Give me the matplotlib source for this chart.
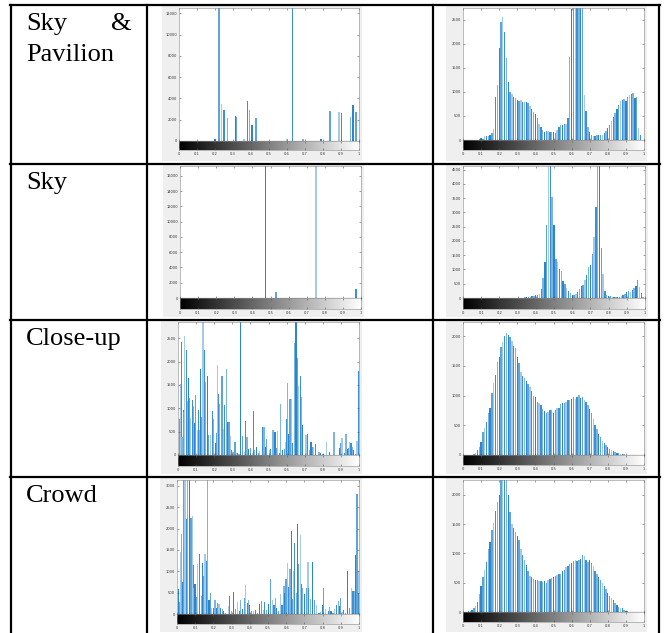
import numpy as np
import matplotlib
matplotlib.use('Agg')
import matplotlib.pyplot as plt
from matplotlib.lines import Line2D
from matplotlib.patches import Rectangle

# ---------------- data ----------------
row_labels = ["Sky & Pavilion", "Sky", "Close-up", "Crowd"]
cbar_ticklabels = ['0', '0.1', '0.2', '0.3', '0.4', '0.5', '0.6', '0.7', '0.8', '0.9', '1']

# dense histogram bins (0.00 .. 1.00)
bins = np.round(np.arange(0, 101) * 0.01, 2)

# Sky & Pavilion (right)
hist2 = [0, 0, 0, 0, 0, 0, 0, 0, 0, 20,
         40, 30, 80, 90, 90, 110, 150, 230, 900, 1150,
         1900, 2450, 2550, 2250, 1700, 1200, 1000, 950, 900, 870,
         830, 800, 820, 780, 790, 780, 760, 710, 640, 590,
         530, 450, 330, 260, 200, 175, 180, 180, 170, 160,
         160, 140, 210, 264, 310, 320, 330, 340, 450, 1730,
         2720, 2900, 3000, 3000, 2900, 2800, 2800, 940, 600, 280,
         170, 105, 90, 90, 100, 110, 100, 110, 150, 190,
         250, 320, 400, 480, 570, 640, 730, 800, 830, 850,
         800, 900, 930, 950, 980, 880, 900, 250, 100, 0,
         0]

# Sky (right)
hist4 = [0, 0, 0, 0, 0, 0, 0, 0, 0, 0,
         0, 0, 0, 0, 0, 0, 0, 0, 0, 0,
         0, 0, 0, 0, 0, 0, 0, 0, 0, 0,
         0, 0, 0, 0, 20, 30, 40, 50, 60, 80,
         100, 110, 150, 320, 700, 1280, 2550, 4700, 4700, 3550,
         2550, 1370, 1280, 1000, 930, 600, 480, 360, 260, 180,
         120, 110, 150, 220, 300, 420, 470, 620, 800, 1100,
         1150, 1550, 2150, 3200, 4700, 4700, 1750, 830, 250, 120,
         80, 60, 40, 50, 40, 50, 40, 80, 100, 140,
         200, 230, 220, 280, 340, 430, 620, 400, 180, 50,
         0]

# Close-up (right)
hist6 = [0, 0, 0, 0, 0, 0, 20, 40, 80, 130,
         220, 380, 450, 560, 700, 800, 1050, 1220, 1350, 1560,
         1650, 1820, 1900, 2000, 2060, 2020, 1980, 1920, 1840, 1800,
         1650, 1550, 1400, 1330, 1300, 1250, 1200, 1150, 1070, 1000,
         970, 900, 870, 840, 780, 740, 700, 730, 760, 750,
         710, 760, 800, 790, 860, 880, 870, 900, 920, 930,
         940, 970, 950, 980, 1010, 960, 970, 930, 900, 850,
         780, 700, 600, 510, 430, 360, 300, 240, 200, 170,
         130, 100, 80, 70, 50, 40, 30, 20, 15, 10,
         0, 0, 0, 0, 0, 0, 0, 0, 0, 0,
         0]

# Crowd (right)
hist8 = [0, 0, 0, 10, 20, 30, 60, 100, 170, 300,
         450, 600, 720, 860, 1080, 1200, 1400, 1520, 1720, 1880,
         2000, 2300, 2300, 2300, 2300, 2000, 1700, 1500, 1440, 1360,
         1300, 1230, 1080, 980, 880, 800, 700, 620, 590, 560,
         550, 540, 530, 520, 510, 520, 500, 540, 560, 580,
         600, 620, 630, 640, 650, 700, 720, 760, 780, 820,
         840, 870, 880, 870, 880, 900, 980, 950, 880, 860,
         880, 840, 780, 700, 650, 600, 540, 500, 450, 390,
         330, 280, 240, 200, 160, 120, 90, 70, 60, 40,
         25, 15, 5, 0, 0, 0, 0, 0, 0, 0,
         0]

# Sky & Pavilion (left) - sparse
pos1 = [0.200, 0.222, 0.237, 0.251, 0.268, 0.314, 0.318, 0.360, 0.379, 0.392,
        0.405, 0.427, 0.600, 0.630, 0.690, 0.790, 0.839, 0.889, 0.904, 0.952,
        0.967, 0.983]
cnt1 = [200, 13000, 3450, 2950, 2150, 2350, 2300, 200, 3800, 2950,
        1500, 2150, 200, 13000, 200, 200, 2850, 2700, 2650, 2300,
        3350, 2700]

# Sky (left) - sparse
pos3 = [0.473, 0.532, 0.751, 0.974]
cnt3 = [18000, 780, 18000, 1210]

# Close-up (left) - sparse
pos5 = [0.006, 0.011, 0.015, 0.018, 0.022, 0.028, 0.031, 0.037, 0.046, 0.052,
        0.057, 0.064, 0.070, 0.079, 0.085, 0.090, 0.098, 0.107, 0.112, 0.120,
        0.125, 0.131, 0.138, 0.144, 0.151, 0.162, 0.168, 0.180, 0.190, 0.197,
        0.206, 0.212, 0.217, 0.225, 0.230, 0.238, 0.243, 0.252, 0.258, 0.269,
        0.274, 0.282, 0.289, 0.296, 0.304, 0.310, 0.315, 0.322, 0.330, 0.337,
        0.346, 0.355, 0.365, 0.374, 0.381, 0.389, 0.403, 0.410, 0.416, 0.424,
        0.433, 0.444, 0.451, 0.466, 0.475, 0.482, 0.490, 0.503, 0.510, 0.525,
        0.536, 0.543, 0.552, 0.562, 0.565, 0.575, 0.586, 0.593, 0.602, 0.606,
        0.613, 0.619, 0.626, 0.635, 0.646, 0.652, 0.659, 0.668, 0.676, 0.683,
        0.690, 0.702, 0.707, 0.716, 0.727, 0.735, 0.744, 0.751, 0.762, 0.779,
        0.786, 0.801, 0.818, 0.838, 0.862, 0.890, 0.899, 0.906, 0.919, 0.928,
        0.937, 0.943, 0.948, 0.956, 0.963, 0.971, 0.982, 0.989, 0.998]
cnt5 = [590, 780, 1520, 2430, 380, 960, 930, 2550, 2250, 1150,
        1650, 1230, 800, 1180, 1050, 680, 1290, 540, 960, 530,
        1850, 820, 3000, 2250, 1560, 1700, 430, 430, 950, 780,
        260, 480, 1930, 1300, 1100, 1500, 1700, 560, 1080, 1850,
        700, 700, 400, 100, 70, 200, 270, 40, 50, 20,
        3000, 400, 60, 730, 380, 120, 160, 50, 950, 100,
        180, 50, 90, 600, 600, 180, 350, 100, 130, 540,
        500, 160, 520, 40, 1100, 100, 130, 280, 780, 1550,
        450, 1200, 1200, 260, 2400, 3000, 2070, 1470, 1700, 1250,
        650, 60, 420, 440, 100, 270, 180, 180, 230, 70,
        50, 30, 270, 60, 500, 150, 250, 370, 40, 460,
        130, 140, 280, 260, 170, 110, 20, 290, 1800]

# Crowd (left) - sparse
pos7 = [0.007, 0.013, 0.018, 0.024, 0.027, 0.033, 0.038, 0.044, 0.051, 0.059,
        0.070, 0.077, 0.084, 0.090, 0.093, 0.099, 0.110, 0.115, 0.123, 0.134,
        0.139, 0.148, 0.154, 0.161, 0.168, 0.176, 0.183, 0.192, 0.201, 0.209,
        0.216, 0.223, 0.231, 0.238, 0.249, 0.256, 0.267, 0.282, 0.289, 0.300,
        0.311, 0.322, 0.333, 0.341, 0.350, 0.359, 0.370, 0.377, 0.385, 0.392,
        0.399, 0.408, 0.418, 0.432, 0.441, 0.454, 0.463, 0.473, 0.482, 0.494,
        0.504, 0.513, 0.524, 0.533, 0.540, 0.549, 0.560, 0.568, 0.577, 0.588,
        0.593, 0.599, 0.606, 0.615, 0.621, 0.630, 0.637, 0.643, 0.648, 0.656,
        0.663, 0.670, 0.678, 0.685, 0.692, 0.701, 0.711, 0.720, 0.725, 0.736,
        0.745, 0.755, 0.766, 0.780, 0.789, 0.799, 0.806, 0.817, 0.830, 0.839,
        0.846, 0.857, 0.866, 0.875, 0.888, 0.894, 0.899, 0.908, 0.916, 0.927,
        0.938, 0.949, 0.958, 0.967, 0.976, 0.982, 0.989, 0.995, 1.000]
cnt7 = [580, 280, 1450, 1080, 1870, 750, 3300, 3300, 2220, 3300,
        3300, 2260, 2290, 1150, 600, 700, 400, 1170, 1400, 420,
        1200, 900, 1400, 1250, 3300, 330, 500, 150, 130, 330,
        150, 250, 230, 150, 120, 60, 30, 180, 430, 80,
        520, 120, 270, 80, 320, 120, 380, 690, 260, 330,
        200, 80, 60, 100, 20, 230, 300, 100, 270, 90,
        240, 810, 320, 200, 370, 140, 80, 470, 200, 650,
        500, 820, 1190, 640, 1050, 1950, 350, 1000, 1670, 500,
        2100, 1180, 1850, 700, 600, 480, 620, 1230, 600, 340,
        1220, 330, 200, 30, 40, 220, 600, 110, 60, 170,
        80, 20, 110, 220, 300, 180, 380, 50, 90, 30,
        1010, 150, 620, 540, 540, 1390, 2820, 1000, 500]

# y ticks of each panel
yt1 = [0, 2000, 4000, 6000, 8000, 10000, 12000]
yt2 = [0, 500, 1000, 1500, 2000, 2500]
yt3 = [0, 2000, 4000, 6000, 8000, 10000, 12000, 14000, 16000]
yt4 = [0, 500, 1000, 1500, 2000, 2500, 3000, 3500, 4000, 4500]
yt5 = [0, 500, 1000, 1500, 2000, 2500]
yt6 = [0, 500, 1000, 1500, 2000]
yt7 = [0, 500, 1000, 1500, 2000, 2500, 3000]
yt8 = [0, 500, 1000, 1500, 2000]

# ---------------- layout ----------------
W, H = 667, 633
fig = plt.figure(figsize=(W / 100, H / 100), dpi=100)
fig.patch.set_facecolor('white')


def fx(x):
    return x / W


def fy(y):
    return 1 - y / H


def add_ax(l, t, r, b):
    return fig.add_axes([fx(l), fy(b), (r - l) / W, (b - t) / H])


shades = ['#2a85cb', '#5ea5da', '#a3cae9', '#3b91d1', '#7db5e0']

# (x, counts, yticks, ymax, width, plot_left, plot_right, top, zero_y, cbar_bottom, row_top, row_bottom)
panels = [
    (pos1, cnt1, yt1, 12500, 0.008, 179, 359, 8, 141, 150, 5, 162),
    (bins, hist2, yt2, 2740, 0.0075, 463, 644, 8, 140, 150, 5, 162),
    (pos3, cnt3, yt3, 17300, 0.009, 180, 361, 166, 298, 309, 164, 318),
    (bins, hist4, yt4, 4630, 0.0075, 463, 645, 166, 298, 309, 164, 318),
    (pos5, cnt5, yt5, 2850, 0.006, 178, 359, 322, 455, 466, 320, 475),
    (bins, hist6, yt6, 2240, 0.0075, 463, 644, 322, 455, 465, 320, 475),
    (pos7, cnt7, yt7, 3140, 0.006, 177, 359, 480, 614, 624, 477, 633),
    (bins, hist8, yt8, 2250, 0.0075, 463, 644, 480, 612, 622, 477, 633),
]

gradient = np.linspace(0, 1, 256)[None, :]
fs_tick = 2.6

for (xs, cs, yt, ymax, bw, pl, pr, top, zy, cb, rt, rb) in panels:
    # light gray MATLAB figure background
    fig.add_artist(Rectangle((fx(pl - 17), fy(rb - 1)), (pr + 3 - (pl - 17)) / W,
                             (rb - 1 - (rt + 1)) / H, transform=fig.transFigure,
                             facecolor='#efefef', edgecolor='none', zorder=0))
    ax = add_ax(pl, top, pr, zy)
    ax.set_facecolor('white')
    cols = [shades[i % len(shades)] for i in range(len(cs))]
    ax.bar(xs, cs, width=bw, color=cols, linewidth=0, align='center')
    ax.set_xlim(0, 1)
    ax.set_ylim(0, ymax)
    ax.set_xticks(np.arange(0, 1.01, 0.1))
    ax.set_xticklabels([])
    ax.set_yticks(yt)
    ax.set_yticklabels([str(v) for v in yt])
    ax.tick_params(direction='in', length=1.5, width=0.4, top=True, right=True,
                   labelsize=fs_tick, pad=1.5, color='#555555', labelcolor='#333333')
    for s in ax.spines.values():
        s.set_linewidth(0.4)
        s.set_color('#8a8a8a')
    ax.spines['bottom'].set_color('black')
    ax.spines['bottom'].set_linewidth(0.8)

    cax = add_ax(pl, zy, pr, cb)
    cax.imshow(gradient, cmap='gray', aspect='auto', extent=(0, 1, 0, 1))
    cax.set_xlim(0, 1)
    cax.set_xticks(np.arange(0, 1.01, 0.1))
    cax.set_xticklabels(cbar_ticklabels)
    cax.set_yticks([])
    cax.tick_params(direction='in', length=1.2, width=0.4, top=True,
                    labelsize=fs_tick, pad=1.5, color='#555555', labelcolor='#333333')
    for s in cax.spines.values():
        s.set_linewidth(0.4)
        s.set_color('#8a8a8a')

# ---------------- table lines ----------------
lw_tab = 1.6
for y in [5, 164, 320, 477]:
    fig.add_artist(Line2D([fx(10), fx(660)], [fy(y), fy(y)], color='black',
                          lw=lw_tab, transform=fig.transFigure, zorder=5))
for x in [11, 147, 433, 659]:
    fig.add_artist(Line2D([fx(x), fx(x)], [fy(5), fy(633)], color='black',
                          lw=lw_tab, transform=fig.transFigure, zorder=5))

# ---------------- row labels ----------------
serif = dict(family='Liberation Serif', fontsize=19, color='black', va='baseline')
fig.text(fx(26), fy(30), "Sky", ha='left', **serif)
fig.text(fx(132), fy(30), "&", ha='right', **serif)
fig.text(fx(26), fy(61), "Pavilion", ha='left', **serif)
fig.text(fx(26), fy(189), row_labels[1], ha='left', **serif)
fig.text(fx(26), fy(345), row_labels[2], ha='left', **serif)
fig.text(fx(26), fy(502), row_labels[3], ha='left', **serif)

fig.savefig('out.png', dpi=100, facecolor='white')
